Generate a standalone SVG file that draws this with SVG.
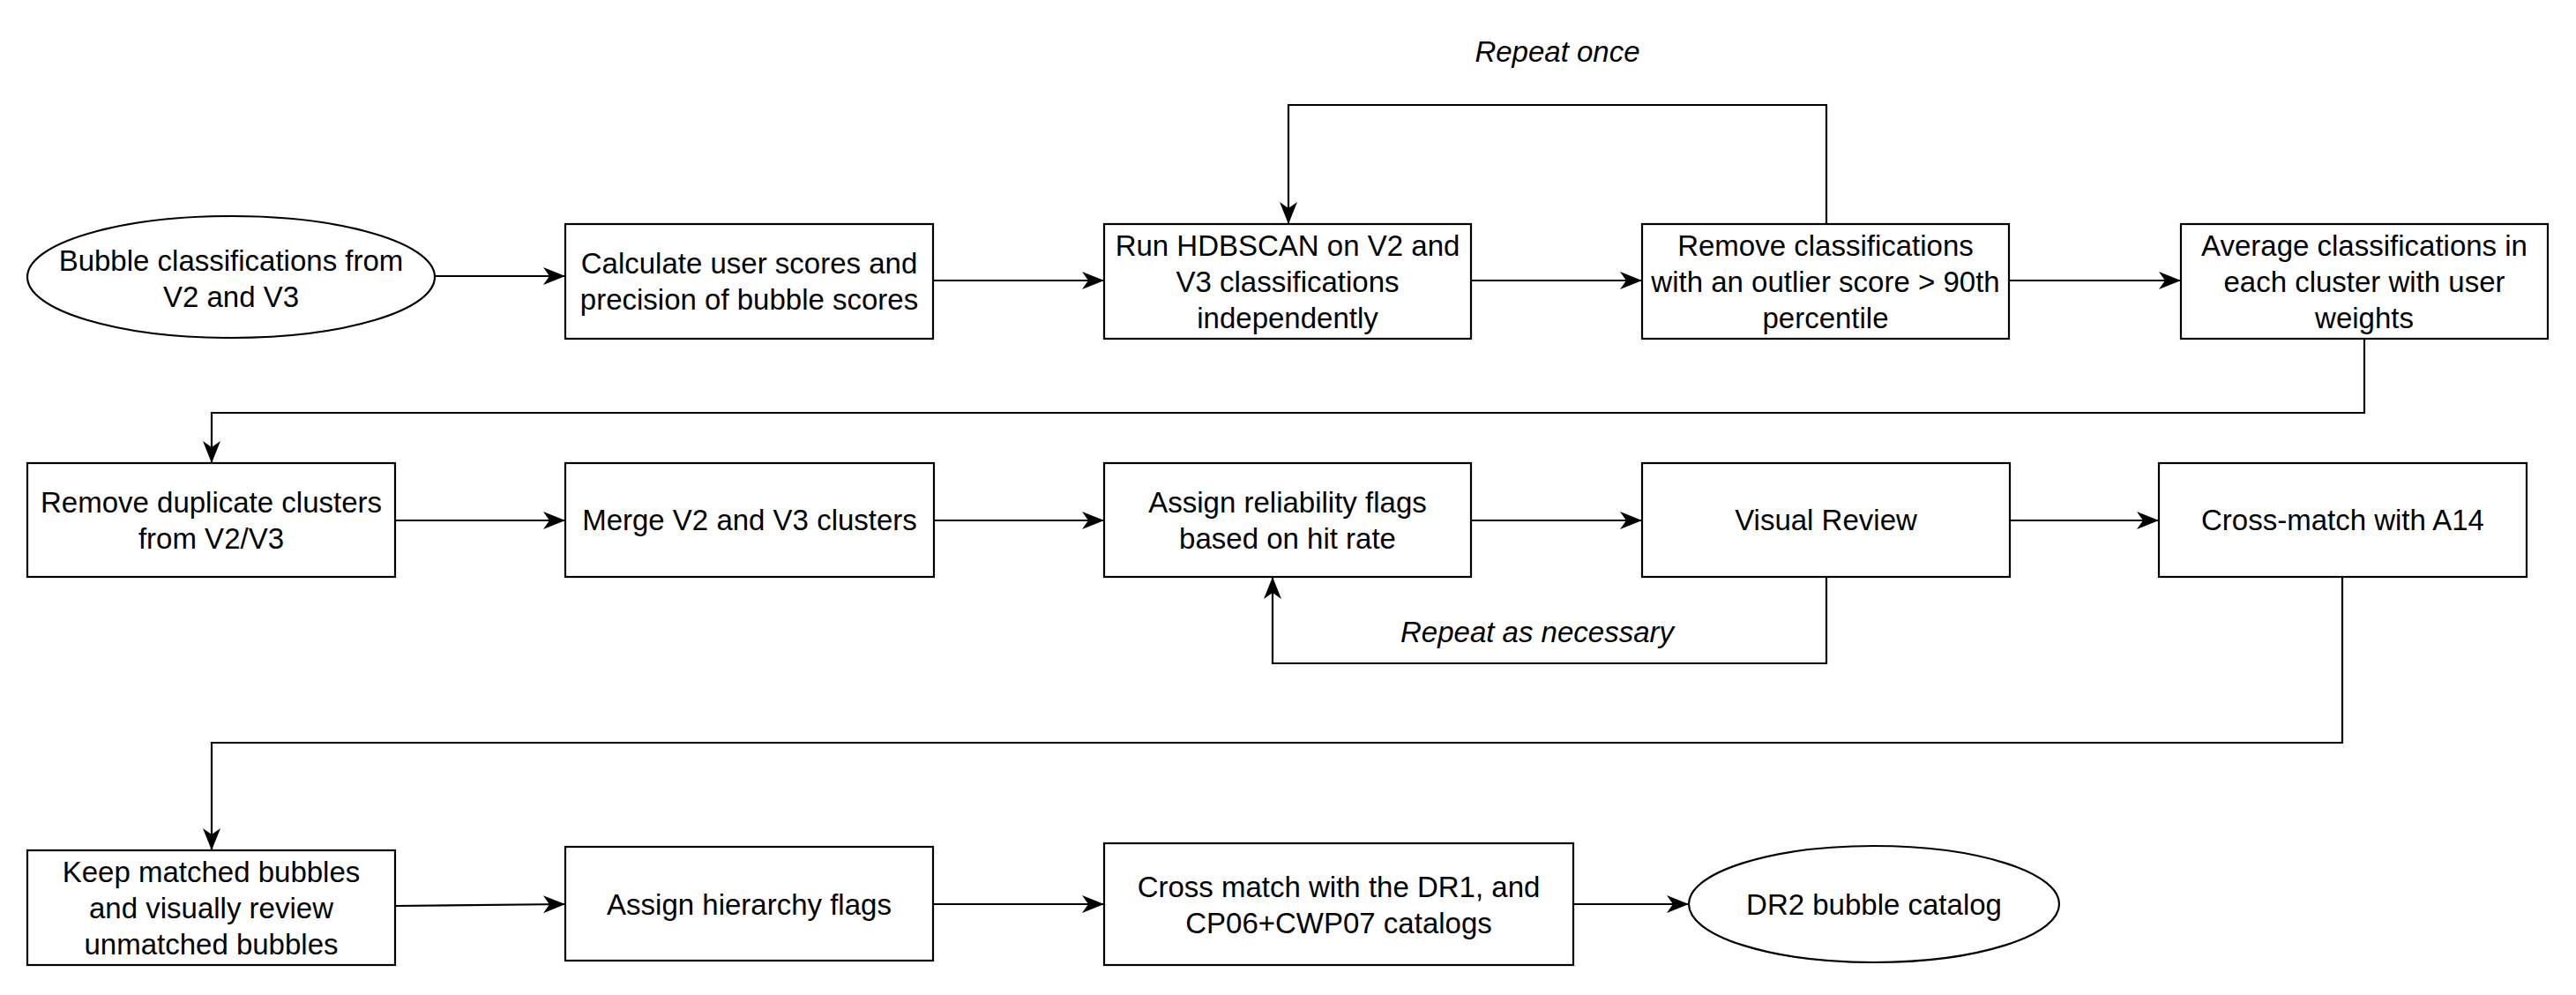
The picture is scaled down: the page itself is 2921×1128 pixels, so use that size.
<svg xmlns="http://www.w3.org/2000/svg" width="2921" height="1128" viewBox="0 0 2921 1128">
  <defs>
    <marker id="arrow" markerUnits="userSpaceOnUse" markerWidth="30" markerHeight="24" viewBox="-26 -12 30 24" refX="0" refY="0" orient="auto">
      <path d="M0,0 L-25,-10 L-18,0 L-25,10 Z" fill="#000"/>
    </marker>
    <style>
      .shape { fill: #fff; stroke: #000; stroke-width: 2.2; }
      .lbl { font-family: "Liberation Sans", Arial, sans-serif; font-size: 33px; fill: #000; text-anchor: middle; }
      .note { font-style: italic; }
      .edge { fill: none; stroke: #000; stroke-width: 2.2; marker-end: url(#arrow); }
      .line { fill: none; stroke: #000; stroke-width: 2.2; }
    </style>
  </defs>
  <rect width="2921" height="1128" fill="#fff"/>

  <!-- connectors -->
  <g id="connectors">
    <path class="edge" d="M493,313 L641,313"/>
    <path class="edge" d="M1058,318 L1252,318"/>
    <path class="edge" d="M1668,318 L1862,318"/>
    <path class="edge" d="M2278,318 L2473,318"/>
    <path class="edge" d="M2071,254 L2071,119 L1461,119 L1461,254"/>
    <path class="edge" d="M2681,384 L2681,468 L240,468 L240,525"/>
    <path class="edge" d="M448,590 L641,590"/>
    <path class="edge" d="M1059,590 L1252,590"/>
    <path class="edge" d="M1668,590 L1862,590"/>
    <path class="edge" d="M2279,590 L2448,590"/>
    <path class="edge" d="M2071,654 L2071,752 L1443,752 L1443,654"/>
    <path class="edge" d="M2656,654 L2656,842 L240,842 L240,964"/>
    <path class="edge" d="M448,1027 L641,1025"/>
    <path class="edge" d="M1058,1025 L1252,1025"/>
    <path class="edge" d="M1784,1025 L1915,1025"/>
    <text class="lbl note" x="1766" y="70">Repeat once</text>
    <text class="lbl note" x="1743" y="728">Repeat as necessary</text>
  </g>

  <!-- row 1 -->
  <g id="n-source">
    <ellipse class="shape" cx="262" cy="314" rx="231" ry="69"/>
    <text class="lbl" x="262" y="307">Bubble classifications from</text>
    <text class="lbl" x="262" y="348">V2 and V3</text>
  </g>
  <g id="n-scores">
    <rect class="shape" x="641" y="254" width="417" height="130"/>
    <text class="lbl" x="849.5" y="310">Calculate user scores and</text>
    <text class="lbl" x="849.5" y="351">precision of bubble scores</text>
  </g>
  <g id="n-hdbscan">
    <rect class="shape" x="1252" y="254" width="416" height="130"/>
    <text class="lbl" x="1460" y="290">Run HDBSCAN on V2 and</text>
    <text class="lbl" x="1460" y="331">V3 classifications</text>
    <text class="lbl" x="1460" y="372">independently</text>
  </g>
  <g id="n-outliers">
    <rect class="shape" x="1862" y="254" width="416" height="130"/>
    <text class="lbl" x="2070" y="290">Remove classifications</text>
    <text class="lbl" x="2070" y="331">with an outlier score &gt; 90th</text>
    <text class="lbl" x="2070" y="372">percentile</text>
  </g>
  <g id="n-average">
    <rect class="shape" x="2473" y="254" width="416" height="130"/>
    <text class="lbl" x="2681" y="290">Average classifications in</text>
    <text class="lbl" x="2681" y="331">each cluster with user</text>
    <text class="lbl" x="2681" y="372">weights</text>
  </g>

  <!-- row 2 -->
  <g id="n-duplicates">
    <rect class="shape" x="31" y="525" width="417" height="129"/>
    <text class="lbl" x="239.5" y="581">Remove duplicate clusters</text>
    <text class="lbl" x="239.5" y="622">from V2/V3</text>
  </g>
  <g id="n-merge">
    <rect class="shape" x="641" y="525" width="418" height="129"/>
    <text class="lbl" x="850" y="601">Merge V2 and V3 clusters</text>
  </g>
  <g id="n-reliability">
    <rect class="shape" x="1252" y="525" width="416" height="129"/>
    <text class="lbl" x="1460" y="581">Assign reliability flags</text>
    <text class="lbl" x="1460" y="622">based on hit rate</text>
  </g>
  <g id="n-visual">
    <rect class="shape" x="1862" y="525" width="417" height="129"/>
    <text class="lbl" x="2070.5" y="601">Visual Review</text>
  </g>
  <g id="n-a14">
    <rect class="shape" x="2448" y="525" width="417" height="129"/>
    <text class="lbl" x="2656.5" y="601">Cross-match with A14</text>
  </g>

  <!-- row 3 -->
  <g id="n-keep">
    <rect class="shape" x="31" y="964" width="417" height="130"/>
    <text class="lbl" x="239.5" y="1000">Keep matched bubbles</text>
    <text class="lbl" x="239.5" y="1041">and visually review</text>
    <text class="lbl" x="239.5" y="1082">unmatched bubbles</text>
  </g>
  <g id="n-hierarchy">
    <rect class="shape" x="641" y="960" width="417" height="129"/>
    <text class="lbl" x="849.5" y="1036.5">Assign hierarchy flags</text>
  </g>
  <g id="n-dr1">
    <rect class="shape" x="1252" y="956" width="532" height="138"/>
    <text class="lbl" x="1518" y="1016.5">Cross match with the DR1, and</text>
    <text class="lbl" x="1518" y="1057.5">CP06+CWP07 catalogs</text>
  </g>
  <g id="n-dr2">
    <ellipse class="shape" cx="2125" cy="1025" rx="210" ry="66"/>
    <text class="lbl" x="2125" y="1037">DR2 bubble catalog</text>
  </g>
</svg>
